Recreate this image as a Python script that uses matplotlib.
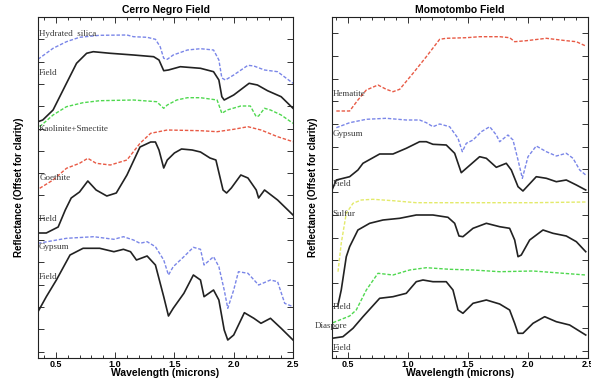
import numpy as np
import matplotlib.pyplot as plt
from matplotlib.ticker import MultipleLocator, FixedLocator

# Spectra (x in microns, y in offset reflectance units)
cn_silica_x = [0.35, 0.477, 0.59, 0.70, 0.87, 1.10, 1.155, 1.27, 1.34, 1.38, 1.41, 1.44, 1.49, 1.61, 1.72,
               1.83, 1.875, 1.90, 1.93, 2.0, 2.12, 2.17, 2.26, 2.37, 2.5]
cn_silica_y = [298.7, 309.7, 316.3, 320.7, 322.7, 323, 321.3, 320.7, 318.7, 311.3, 299.7, 298.7, 303, 308, 309.3,
               308, 298, 280, 278, 283, 292.7, 292, 288, 286.3, 274.7]

cn_field1_x = [0.35, 0.39, 0.477, 0.59, 0.675, 0.76, 0.816, 0.96, 1.155, 1.325, 1.37, 1.41, 1.45, 1.55, 1.72,
               1.83, 1.875, 1.90, 1.92, 2.0, 2.13, 2.2, 2.285, 2.40, 2.5]
cn_field1_y = [236.3, 238, 248, 274.7, 294.7, 304.7, 306.3, 304.7, 303, 301.3, 298, 287.3, 288, 291.3, 289.7,
               286.3, 278, 261.3, 258, 263, 274.7, 273, 267.3, 261.3, 249.7]

cn_kaol_x = [0.364, 0.477, 0.59, 0.73, 0.87, 1.155, 1.35, 1.41, 1.44, 1.52, 1.61, 1.72, 1.86, 1.90, 1.945,
             2.06, 2.14, 2.19, 2.21, 2.26, 2.31, 2.40, 2.5]
cn_kaol_y = [231.3, 243, 251.3, 255.3, 257.3, 258, 256.3, 249.7, 253, 258, 260.3, 260.3, 258, 244.7, 248,
             252, 252, 241.3, 242, 249.7, 248, 243, 234.7]

cn_goeth_x = [0.364, 0.477, 0.59, 0.70, 0.77, 0.84, 0.96, 1.10, 1.21, 1.30, 1.44, 1.72, 1.86, 2.0, 2.12,
              2.23, 2.37, 2.5]
cn_goeth_y = [169.7, 178, 189.7, 194.7, 199.7, 194.7, 193, 198, 214.7, 224.7, 228, 227.3, 226.3, 228.7, 231.3,
              228, 221.3, 216.3]

cn_field2_x = [0.35, 0.42, 0.52, 0.58, 0.63, 0.70, 0.77, 0.84, 0.93, 1.01, 1.10, 1.21, 1.30, 1.34, 1.37,
               1.41, 1.44, 1.50, 1.56, 1.65, 1.72, 1.80, 1.85, 1.88, 1.91, 1.94, 1.98, 2.06, 2.12, 2.19,
               2.21, 2.26, 2.37, 2.5]
cn_field2_y = [125, 125, 131, 148, 160, 166, 177, 168, 162, 165, 183, 211, 216, 216, 208,
               190, 198, 205, 209, 208, 206, 200, 198, 183, 168, 165, 170, 183, 180, 168,
               160, 168, 158, 143]

cn_gyps_x = [0.35, 0.59, 0.82, 0.99, 1.07, 1.155, 1.21, 1.27, 1.34, 1.41, 1.45, 1.49, 1.58, 1.66, 1.72,
             1.75, 1.83, 1.875, 1.92, 1.95, 2.0, 2.04, 2.12, 2.21, 2.31, 2.37, 2.43, 2.5]
cn_gyps_y = [114.7, 119.7, 121.3, 118.7, 121.3, 118, 114.7, 116.3, 111.3, 98, 83, 91.3, 101.3, 110.7, 108.7,
             93, 101.3, 91.3, 68, 49.7, 68, 86.3, 84.7, 73, 78, 76.3, 54.7, 51.3]

cn_field3_x = [0.35, 0.42, 0.505, 0.62, 0.73, 0.87, 0.99, 1.07, 1.13, 1.18, 1.27, 1.34, 1.41, 1.45, 1.49,
               1.58, 1.66, 1.72, 1.75, 1.83, 1.875, 1.92, 1.95, 2.0, 2.09, 2.17, 2.23, 2.31, 2.40, 2.5]
cn_field3_y = [46.3, 61.3, 78, 103, 109.7, 109.7, 106.3, 108.7, 106.3, 98, 102, 93, 61.3, 42, 49.7,
               64.7, 83, 78, 61.3, 68, 58, 28, 18, 23, 45.3, 39.7, 34.7, 39.7, 29.7, 18]

mo_hem_x = [0.403, 0.514, 0.583, 0.653, 0.75, 0.819, 0.875, 0.931, 1.042, 1.153, 1.264, 1.319, 1.486, 1.597,
            1.764, 1.847, 1.889, 1.986, 2.153, 2.319, 2.403, 2.481]
mo_hem_y = [247, 247, 258, 268, 273, 268.7, 266.3, 268.7, 284.7, 301.3, 318.7, 319.7, 320.3, 321.3,
            321.3, 320.3, 316.3, 317.3, 319.7, 317.3, 316.3, 312]

mo_gyps_x = [0.403, 0.514, 0.653, 0.819, 0.986, 1.097, 1.153, 1.208, 1.264, 1.347, 1.417, 1.453, 1.486, 1.542,
             1.611, 1.681, 1.736, 1.764, 1.833, 1.875, 1.917, 1.953, 2.0, 2.069, 2.153, 2.236, 2.319, 2.375,
             2.431, 2.481]
mo_gyps_y = [230.3, 235.3, 238.7, 239.7, 238, 238, 235.3, 231.3, 234, 231.3, 219.7, 206.3, 214.7, 218,
             226.3, 231.3, 223, 216.3, 223, 218, 198, 179.7, 201.3, 212, 206.3, 202, 204.7, 199.7,
             188, 183]

mo_field1_x = [0.367, 0.403, 0.514, 0.583, 0.625, 0.764, 0.875, 0.986, 1.097, 1.153, 1.208, 1.319, 1.389, 1.444,
               1.486, 1.597, 1.653, 1.736, 1.819, 1.861, 1.917, 1.958, 2.069, 2.153, 2.236, 2.319, 2.403, 2.481]
mo_field1_y = [168, 178, 181.3, 188, 194.7, 204, 204, 209.7, 216.3, 216.3, 213.7, 213, 204.7, 185.3,
               189.7, 201.3, 199.7, 190.7, 194.7, 188, 171.3, 167, 181.3, 179.7, 176.3, 178, 173, 168]

mo_sulf_x = [0.417, 0.444, 0.486, 0.542, 0.611, 0.708, 0.875, 1.069, 1.486, 2.042, 2.481]
mo_sulf_y = [86.3, 114.7, 144.7, 154.7, 158, 158.7, 157.3, 155.3, 155.3, 155.3, 156]

mo_field2_x = [0.417, 0.444, 0.486, 0.514, 0.583, 0.681, 0.792, 0.931, 1.069, 1.208, 1.333, 1.389, 1.425, 1.458,
               1.542, 1.653, 1.764, 1.847, 1.889, 1.917, 1.944, 2.014, 2.125, 2.208, 2.319, 2.403, 2.481]
mo_field2_y = [53, 68, 101.3, 111.3, 128, 134.7, 138, 139.7, 143, 143, 140.7, 134.7, 122, 121.3,
               129.7, 134.7, 131.3, 129.7, 118, 101.3, 103, 118, 128, 124.7, 122, 116.3, 106.3]

mo_diasp_x = [0.375, 0.514, 0.569, 0.653, 0.75, 0.875, 1.014, 1.153, 1.347, 1.542, 1.764, 2.042, 2.481]
mo_diasp_y = [35.3, 42, 48, 68, 84.7, 83, 88, 90.3, 88.7, 88, 86.3, 87, 83]

mo_field3_x = [0.367, 0.458, 0.542, 0.625, 0.764, 0.875, 0.986, 1.069, 1.125, 1.208, 1.319, 1.375, 1.417, 1.458,
               1.542, 1.653, 1.764, 1.847, 1.889, 1.917, 1.958, 2.042, 2.139, 2.236, 2.347, 2.481]
mo_field3_y = [19.7, 21.3, 29.7, 41.3, 59.7, 61.3, 64.7, 76.3, 78, 76.3, 76.3, 68, 48, 44.7,
               54.7, 58, 54, 48, 34.7, 24.7, 24.7, 34.7, 41.3, 36.3, 33, 23]

# Curve labels: (text, x, y)
cn_labels = [("Hydrated  silica", 0.357, 324), ("Field", 0.357, 285), ("Kaolinite+Smectite", 0.357, 229),
             ("Goethite", 0.36, 180), ("Field", 0.357, 139), ("Gypsum", 0.357, 111), ("Field", 0.357, 81)]
mo_labels = [("Hematite", 0.375, 264), ("Gypsum", 0.375, 224), ("Field", 0.375, 174), ("Sulfur", 0.37, 144),
             ("Field", 0.375, 51), ("Diaspore", 0.225, 32), ("Field", 0.375, 10)]

BLUE = "#7a86e8"
GREEN = "#4fd84f"
RED = "#e85a45"
YELLOW = "#e3ea6a"
BLACK = "#222222"

fig = plt.figure(figsize=(5.91, 3.81), dpi=100)
ax1 = fig.add_axes([38 / 591, 23 / 381, 255 / 591, 341 / 381])
ax2 = fig.add_axes([332 / 591, 23 / 381, 256 / 591, 341 / 381])

dash = dict(ls=(0, (2.5, 1.3)), lw=1.0, dash_joinstyle="round")
solid = dict(ls="-", lw=1.2, color=BLACK, solid_joinstyle="round")

# Cerro Negro
ax1.plot(cn_silica_x, cn_silica_y, color=BLUE, **dash)
ax1.plot(cn_field1_x, cn_field1_y, **solid)
ax1.plot(cn_kaol_x, cn_kaol_y, color=GREEN, **dash)
ax1.plot(cn_goeth_x, cn_goeth_y, color=RED, **dash)
ax1.plot(cn_field2_x, cn_field2_y, **solid)
ax1.plot(cn_gyps_x, cn_gyps_y, color=BLUE, **dash)
ax1.plot(cn_field3_x, cn_field3_y, **solid)

# Momotombo
ax2.plot(mo_hem_x, mo_hem_y, color=RED, **dash)
ax2.plot(mo_gyps_x, mo_gyps_y, color=BLUE, **dash)
ax2.plot(mo_field1_x, mo_field1_y, **solid)
ax2.plot(mo_sulf_x, mo_sulf_y, color=YELLOW, **dash)
ax2.plot(mo_field2_x, mo_field2_y, **solid)
ax2.plot(mo_diasp_x, mo_diasp_y, color=GREEN, **dash)
ax2.plot(mo_field3_x, mo_field3_y, **solid)

for ax, labels, title, xlim, ytick0, ystep in (
        (ax1, cn_labels, "Cerro Negro Field", (0.35, 2.5), 341, 22.3),
        (ax2, mo_labels, "Momotombo Field", (0.367, 2.5), 324.7, 22.7)):
    for txt, x, y in labels:
        ax.text(x, y, txt, family="Liberation Serif", fontsize=6.5, color="#3a3a3a",
                ha="left", va="center")
    ax.set_xlim(*xlim)
    ax.set_ylim(0, 341)
    ax.xaxis.set_major_locator(MultipleLocator(0.5))
    ax.xaxis.set_minor_locator(MultipleLocator(0.1))
    ax.yaxis.set_major_locator(FixedLocator(np.arange(ytick0, 0, -ystep)))
    ax.tick_params(which="both", direction="in", top=True, right=True, labelleft=False,
                   width=0.7, color="#333333")
    ax.tick_params(which="major", length=4, pad=1.5)
    ax.tick_params(which="minor", length=2)
    ax.set_xticks([0.5, 1.0, 1.5, 2.0, 2.5])
    ax.set_xticklabels(["0.5", "1.0", "1.5", "2.0", "2.5"], family="Liberation Sans",
                       fontweight="bold", fontsize=6.5)
    ax.set_title(title, family="Liberation Sans", fontweight="bold", fontsize=7.5, pad=3)
    ax.set_xlabel("Wavelength (microns)", family="Liberation Sans", fontweight="bold",
                  fontsize=7.5, labelpad=-0.5)
    ax.set_ylabel("Reflectance (Offset for clarity)", family="Liberation Sans",
                  fontweight="bold", fontsize=7, labelpad=10)
    for sp in ax.spines.values():
        sp.set_linewidth(0.8)
        sp.set_color("#222222")

fig.savefig("out.png", dpi=100)
